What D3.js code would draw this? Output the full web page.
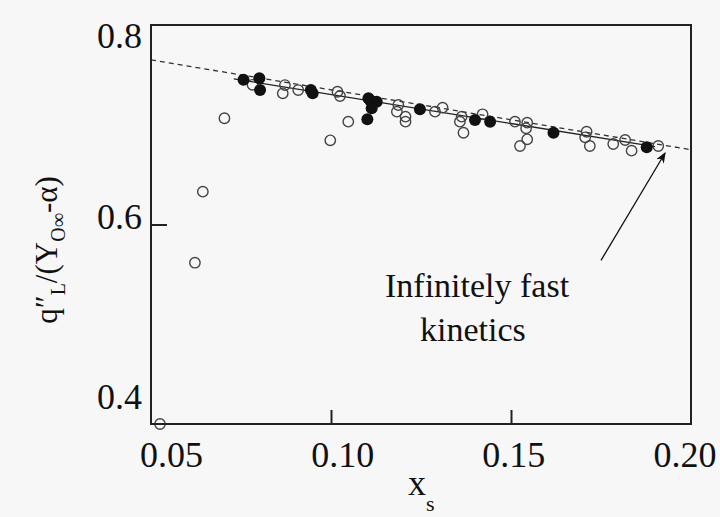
<!DOCTYPE html>
<html>
<head>
<meta charset="utf-8">
<script src="https://cdn.jsdelivr.net/npm/d3@7"></script>
<style>
  html, body { margin: 0; padding: 0; background: #f7f7f7; }
  svg { display: block; font-family: "Liberation Serif", "Times New Roman", serif; }
</style>
</head>
<body>
<div id="chart"></div>
<script>
// open circles (x_s, q''_L/(Y_Oinf - alpha))
const openX = [0.0525, 0.0622, 0.0644, 0.0704, 0.0782, 0.0872, 0.0866, 0.0909, 0.0998, 0.1018, 0.1025, 0.1048,
  0.1187, 0.1183, 0.1207, 0.1207, 0.1289, 0.1310, 0.1363, 0.1358, 0.1368, 0.1421, 0.1511, 0.1545, 0.1542,
  0.1545, 0.1525, 0.1710, 0.1706, 0.1719, 0.1784, 0.1817, 0.1835, 0.1909];
const openY = [0.400, 0.5617, 0.6329, 0.7065, 0.740, 0.7398, 0.7315, 0.7348, 0.6844, 0.7331, 0.7288, 0.7031,
  0.7198, 0.7131, 0.7081, 0.7031, 0.7131, 0.7171, 0.7081, 0.7031, 0.692, 0.7105, 0.7031, 0.7021, 0.6964,
  0.6854, 0.6787, 0.693, 0.6874, 0.6787, 0.6807, 0.6847, 0.674, 0.6787];

// filled circles
const fillX = [0.0757, 0.0801, 0.0803, 0.0944, 0.0949, 0.1104, 0.1108, 0.1127, 0.1113, 0.1101, 0.1247,
  0.1400, 0.1442, 0.1618, 0.1877];
const fillY = [0.745, 0.7466, 0.7348, 0.7348, 0.7315, 0.7265, 0.7248, 0.7231, 0.7165, 0.7055, 0.7155,
  0.7048, 0.7031, 0.692, 0.6774];

// fitted line (solid) and infinitely fast kinetics (dashed)
const fitX = [0.073, 0.190];
const fitY = [0.746, 0.678];
const fastX = [0.05, 0.20];
const fastY = [0.765, 0.675];

// arrow from label to the fast-kinetics line
const arrowX = [0.1750, 0.1928];
const arrowY = [0.5640, 0.6717];

const xTicks = [0.05, 0.10, 0.15, 0.20];
const yTicks = [0.4, 0.6, 0.8];

const width = 720;
const height = 517;
const margin = { top: 25, right: 29, bottom: 93, left: 151 };

const svg = d3.select('#chart').append('svg')
  .attr('width', width)
  .attr('height', height);

svg.append('rect').attr('width', width).attr('height', height).attr('fill', '#f7f7f7');

const x = d3.scaleLinear().domain([0.05, 0.20]).range([margin.left, width - margin.right]);
const y = d3.scaleLinear().domain([0.4, 0.8]).range([height - margin.bottom, margin.top]);

// tick labels sit a little off their ticks in the original
const xLab = d3.scaleLinear().domain([0.05, 0.20]).range([x(0.05) + 20.5, x(0.20) - 6]);
const yLab = d3.scaleLinear().domain([0.4, 0.8]).range([y(0.4) - 15, y(0.8) + 23]);

const defs = svg.append('defs');
defs.append('marker')
  .attr('id', 'head')
  .attr('viewBox', '0 0 10 10')
  .attr('refX', 9).attr('refY', 5)
  .attr('markerWidth', 11).attr('markerHeight', 11)
  .attr('markerUnits', 'userSpaceOnUse')
  .attr('orient', 'auto')
  .append('path')
  .attr('d', 'M0,1 L10,5 L0,9 L3,5 Z')
  .attr('fill', '#111');

// inner ticks
svg.append('g')
  .attr('transform', `translate(0,${y(0.4)})`)
  .call(d3.axisBottom(x).tickValues([0.10, 0.15]).tickSize(-14).tickFormat(''))
  .call(g => g.select('.domain').remove())
  .selectAll('line').attr('stroke', '#222').attr('stroke-width', 2);

svg.append('g')
  .attr('transform', `translate(${x(0.05)},0)`)
  .call(d3.axisLeft(y).tickValues([0.6]).tickSize(-16).tickFormat(''))
  .call(g => g.select('.domain').remove())
  .selectAll('line').attr('stroke', '#222').attr('stroke-width', 2);

// lines
const line = d3.line().x(d => x(d[0])).y(d => y(d[1]));
svg.append('path')
  .attr('d', line(d3.zip(fastX, fastY)))
  .attr('fill', 'none').attr('stroke', '#333').attr('stroke-width', 1.3)
  .attr('stroke-dasharray', '5,4');
svg.append('path')
  .attr('d', line(d3.zip(fitX, fitY)))
  .attr('fill', 'none').attr('stroke', '#222').attr('stroke-width', 1.3);

// points
svg.append('g').selectAll('circle')
  .data(d3.zip(openX, openY)).join('circle')
  .attr('cx', d => x(d[0])).attr('cy', d => y(d[1]))
  .attr('r', 5.2)
  .attr('fill', 'none').attr('stroke', '#444').attr('stroke-width', 1.4);

svg.append('g').selectAll('circle')
  .data(d3.zip(fillX, fillY)).join('circle')
  .attr('cx', d => x(d[0])).attr('cy', d => y(d[1]))
  .attr('r', 6)
  .attr('fill', '#111');

// frame
svg.append('rect')
  .attr('x', x(0.05)).attr('y', y(0.8))
  .attr('width', x(0.20) - x(0.05)).attr('height', y(0.4) - y(0.8))
  .attr('fill', 'none').attr('stroke', '#222').attr('stroke-width', 2);

// tick labels
svg.append('g').selectAll('text')
  .data(xTicks).join('text')
  .attr('x', d => xLab(d)).attr('y', 467)
  .attr('text-anchor', 'middle')
  .attr('font-size', 36).attr('fill', '#111')
  .text(d => d3.format('.2f')(d));

svg.append('g').selectAll('text')
  .data(yTicks).join('text')
  .attr('x', 142).attr('y', d => yLab(d))
  .attr('text-anchor', 'end')
  .attr('font-size', 36).attr('fill', '#111')
  .text(d => d3.format('.1f')(d));

// axis titles
const xt = svg.append('text').attr('x', 408).attr('y', 495)
  .attr('font-size', 36).attr('fill', '#111');
xt.append('tspan').text('x');
xt.append('tspan').attr('font-size', 22).attr('dy', 16).text('s');

const yt = svg.append('text')
  .attr('transform', 'translate(57,250) rotate(-90)')
  .attr('text-anchor', 'middle')
  .attr('font-size', 31).attr('fill', '#111');
yt.append('tspan').text('q\u2033');
yt.append('tspan').attr('font-size', 20).attr('dy', 8).text('L');
yt.append('tspan').attr('dy', -8).text('/(Y');
yt.append('tspan').attr('font-size', 20).attr('dy', 8).text('O\u221e');
yt.append('tspan').attr('dy', -8).text('-\u03b1)');

// annotation
svg.append('path')
  .attr('d', line(d3.zip(arrowX, arrowY)))
  .attr('stroke', '#111').attr('stroke-width', 1.3).attr('fill', 'none')
  .attr('marker-end', 'url(#head)');

const ann = svg.append('text').attr('font-size', 34).attr('fill', '#111');
ann.append('tspan').attr('x', 385).attr('y', 297).text('Infinitely fast');
ann.append('tspan').attr('x', 420).attr('y', 341).text('kinetics');
</script>
</body>
</html>
